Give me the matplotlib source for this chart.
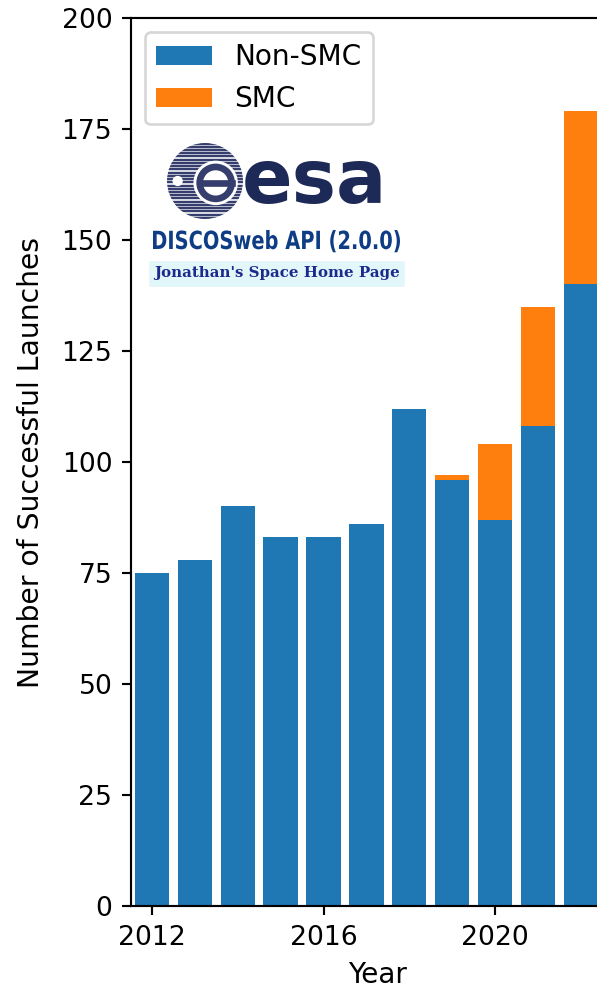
import numpy as np
import matplotlib.pyplot as plt
from matplotlib.patches import Circle, FancyBboxPatch, PathPatch
from matplotlib.textpath import TextPath
from matplotlib.font_manager import FontProperties
from matplotlib.transforms import Affine2D, IdentityTransform

years = [2012, 2013, 2014, 2015, 2016, 2017, 2018, 2019, 2020, 2021, 2022]
non_smc = [75, 78, 90, 83, 83, 86, 112, 96, 87, 108, 140]
smc = [0, 0, 0, 0, 0, 0, 0, 1, 17, 27, 39]

W, H, DPI = 597, 991, 192
fig = plt.figure(figsize=(W / DPI, H / DPI), dpi=DPI)

# axes is wider than the picture: the right part is cut off as in the reference
ppy = 42.875
x0, x1 = 2011.51, 2023.0
left_px, bottom_px, top_px = 131, 906, 18
ax = fig.add_axes([left_px / W, 1 - bottom_px / H,
                   (x1 - x0) * ppy / W, (bottom_px - top_px) / H])

ax.bar(years, non_smc, width=0.8, color="#1f77b4", label="Non-SMC")
ax.bar(years, smc, width=0.8, bottom=non_smc, color="#ff7f0e", label="SMC")
ax.set_xlim(x0, x1)
ax.set_ylim(0, 200)
ax.set_xticks([2012, 2016, 2020])
ax.set_xlabel("Year", fontsize=10.5)
ax.set_ylabel("Number of Successful Launches", fontsize=10.6, labelpad=6)
ax.legend(loc="upper left", fontsize=10.5)

def fx(px):
    return px / W

def fy(py):
    return 1 - py / H

# ESA emblem (drawn roughly)
cx, cy, r = 205, 181, 38
emb = fig.add_axes([fx(cx - r), fy(cy + r), 2 * r / W, 2 * r / H])
emb.set_xlim(-1, 1)
emb.set_ylim(-1, 1)
emb.axis("off")
disc = Circle((0, 0), 1, transform=emb.transData)
for yy in np.arange(-0.97, 1.0, 0.085):
    ln, = emb.plot([-1, 1], [yy, yy], color="#353e6c", lw=0.9)
    ln.set_clip_path(disc)
emb.add_patch(Circle((0.28, -0.05), 0.55, color="white", zorder=3))
emb.add_patch(Circle((0.28, -0.05), 0.42, fill=False, ec="#353e6c", lw=2.5, zorder=4))
emb.plot([-0.1, 0.7], [-0.05, -0.05], color="#353e6c", lw=2.5, zorder=5)
emb.add_patch(Circle((-0.72, 0.0), 0.1, color="white", zorder=3))

fig.text(fx(242), fy(182), "esa", fontsize=28, fontweight="bold",
         color="#1d2a58", va="center", ha="left", family="DejaVu Sans")

# condensed bold label: text path squeezed to the width seen in the reference
tp = TextPath((0, 0), "DISCOSweb API (2.0.0)", size=25,
              prop=FontProperties(family="DejaVu Sans", weight="bold"))
ext = tp.get_extents()
sx = (400 - 153) / ext.width
tr = Affine2D().translate(-ext.x0, 0).scale(sx, 1).translate(153, H - 249)
fig.patches.append(PathPatch(tr.transform_path(tp), transform=IdentityTransform(),
                             color="#0e3d85", lw=0))

fig.patches.append(FancyBboxPatch((fx(150), fy(285)), fx(403) - fx(150),
                                  fy(262) - fy(285), boxstyle="square,pad=0",
                                  transform=fig.transFigure, color="#e2f7fa",
                                  zorder=2))
fig.text(fx(277), fy(273), "Jonathan's Space Home Page", fontsize=5.65,
         fontweight="bold", color="#1c2a8c", va="center", ha="center",
         family="DejaVu Serif", zorder=3)

fig.savefig("out.png", dpi=DPI)
